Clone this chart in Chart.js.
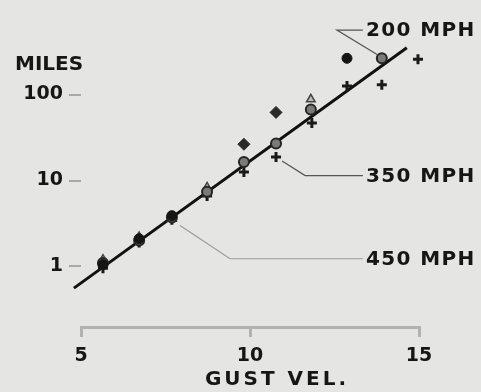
<!DOCTYPE html>
<html>
<head>
<meta charset="utf-8">
<script src="https://cdn.jsdelivr.net/npm/chart.js@4.4.0/dist/chart.umd.min.js"></script>
<style>
  html, body { margin: 0; padding: 0; background: #e5e5e3; }
  #wrap { width: 481px; height: 392px; }
</style>
</head>
<body>
<div id="wrap"><canvas id="myChart"></canvas></div>
<script>
'use strict';
// gust velocity vs miles
const grey200 = [[5.65, 1.1], [6.72, 2.0], [7.69, 3.7], [8.73, 7.4], [9.82, 16.4], [10.77, 27], [11.8, 67], [13.9, 264]];
const plus350 = [[5.65, 0.95], [6.72, 1.9], [7.69, 3.5], [8.73, 6.6], [9.82, 12.6], [10.77, 18.8], [11.83, 46.8], [12.87, 126], [13.9, 130], [14.97, 257]];
const black450 = [[5.65, 1.05], [6.72, 2.1], [7.69, 3.9], [12.87, 264]];
const diamonds = [[9.82, 26.4], [10.77, 62]];
const triangles = [[5.65, 1.2], [6.72, 2.2], [7.69, 3.6], [8.73, 8.3], [11.8, 88]];
const fitLine = [[4.79, 0.56], [14.64, 351]];
const yTicks = [1, 10, 100];
const xTicks = [5, 10, 15];

// leader lines for the labels
const lead200 = [[13.76, 292], [12.57, 562], [13.34, 562]];
const lead350 = [[10.95, 16.9], [11.63, 11.4], [13.34, 11.4]];
const lead450 = [[7.93, 3.0], [9.41, 1.23], [13.34, 1.23]];
const labels = ['200 MPH', '350 MPH', '450 MPH'];

const pts = arr => arr.map(p => ({ x: p[0], y: p[1] }));
const FONT = '"DejaVu Sans", sans-serif';

function leader(arr, color) {
    return {
        type: 'line', data: pts(arr), borderColor: color, borderWidth: 1.2,
        pointRadius: 0, fill: false, clip: false, order: 5
    };
}

const textPlugin = {
    id: 'texts',
    afterDraw(chart) {
        const ctx = chart.ctx;
        const xs = chart.scales.x, ys = chart.scales.y;
        ctx.save();
        ctx.fillStyle = '#161616';
        ctx.font = 'bold 20px ' + FONT;
        ctx.textBaseline = 'middle';
        ctx.textAlign = 'left';
        ctx.fillText('MILES', 15, 65);
        ctx.letterSpacing = '1.4px';
        [lead200, lead350, lead450].forEach((l, i) => {
            const end = l[l.length - 1];
            ctx.fillText(labels[i], xs.getPixelForValue(end[0]) + 3, ys.getPixelForValue(end[1]) + 1);
        });
        ctx.textAlign = 'center';
        ctx.letterSpacing = '3px';
        ctx.fillText('GUST VEL.', 277, 380);
        ctx.restore();
    }
};

new Chart(document.getElementById('myChart'), {
    type: 'scatter',
    data: {
        datasets: [
            { type: 'line', data: pts(fitLine), borderColor: '#111', borderWidth: 3, pointRadius: 0, clip: false, order: 4 },
            leader(lead200, '#555'),
            leader(lead350, '#555'),
            leader(lead450, '#9a9a9a'),
            { data: pts(triangles), pointStyle: 'triangle', pointRadius: 5, backgroundColor: '#b8b8b8', borderColor: '#444', borderWidth: 1.5, clip: false, order: 3 },
            { data: pts(plus350), pointStyle: 'cross', pointRadius: 5, borderColor: '#1a1a1a', borderWidth: 3, clip: false, order: 2 },
            { data: pts(diamonds), pointStyle: 'rectRot', pointRadius: 6, backgroundColor: '#2a2a2a', borderColor: '#2a2a2a', borderWidth: 1, clip: false, order: 1 },
            { data: pts(grey200), pointStyle: 'circle', pointRadius: 5, backgroundColor: '#7a7a7a', borderColor: '#262626', borderWidth: 2, clip: false, order: 1 },
            { data: pts(black450), pointStyle: 'circle', pointRadius: 5, backgroundColor: '#151515', borderColor: '#151515', borderWidth: 1, clip: false, order: 0 }
        ]
    },
    options: {
        responsive: true,
        maintainAspectRatio: false,
        animation: false,
        layout: { padding: { top: 10, right: 62, left: 0, bottom: 0 } },
        plugins: { legend: { display: false }, tooltip: { enabled: false } },
        scales: {
            x: {
                type: 'linear', min: 5, max: 15,
                afterFit: a => { a.height = 65; },
                afterBuildTicks: a => { a.ticks = xTicks.map(v => ({ value: v })); },
                border: { display: true, color: '#b2b2b0', width: 3 },
                grid: { drawOnChartArea: false, drawTicks: true, tickLength: 10, color: '#b2b2b0', lineWidth: 3 },
                ticks: { color: '#161616', font: { family: FONT, size: 19, weight: 'bold' }, padding: 8 }
            },
            y: {
                type: 'logarithmic', min: 0.1975, max: 790,
                afterFit: a => { a.width = 81; },
                afterBuildTicks: a => { a.ticks = yTicks.map(v => ({ value: v })); },
                border: { display: false },
                grid: { drawOnChartArea: false, drawTicks: true, tickLength: 12, color: '#a8a8a6', lineWidth: 2 },
                ticks: { color: '#161616', font: { family: FONT, size: 19, weight: 'bold' }, padding: 6, callback: v => String(v) }
            }
        }
    },
    plugins: [textPlugin]
});
</script>
</body>
</html>
